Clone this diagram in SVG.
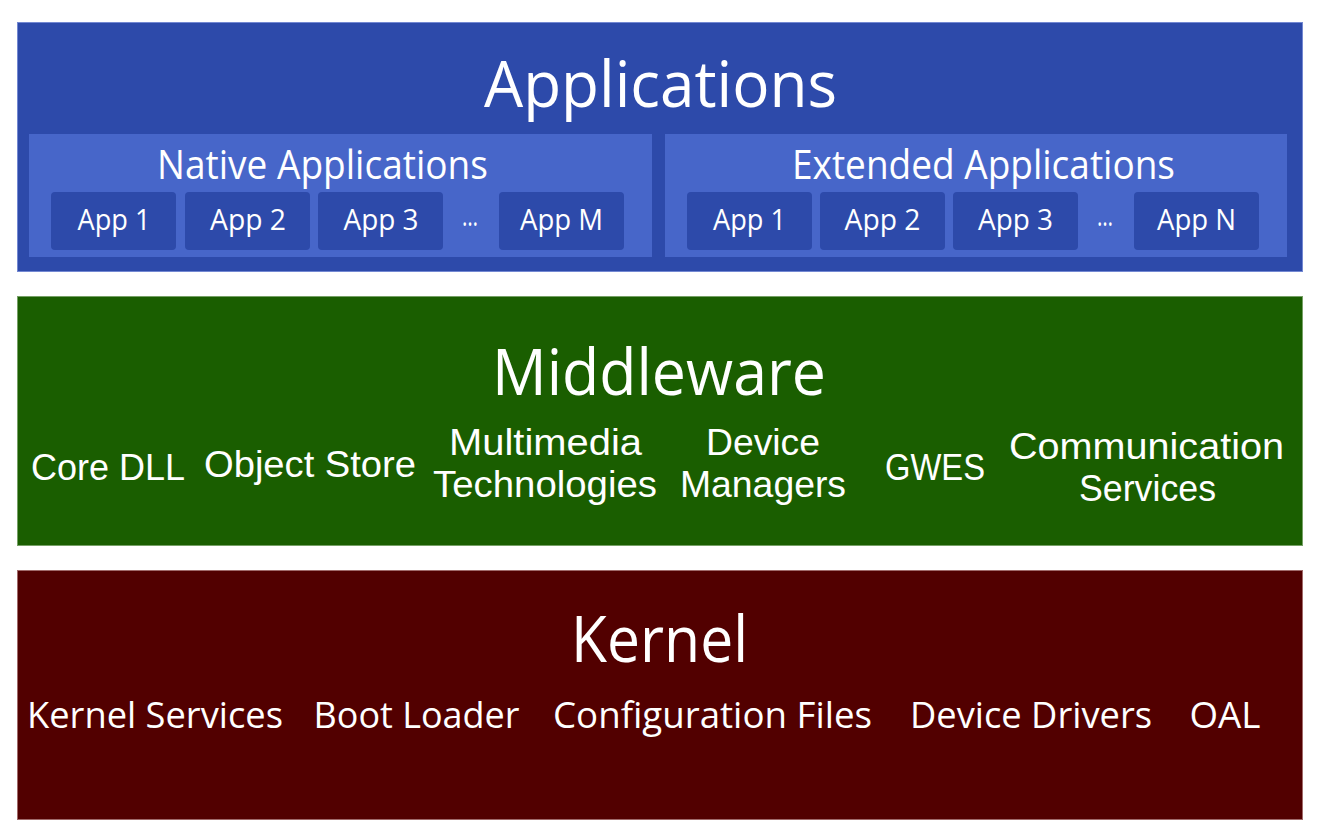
<svg xmlns="http://www.w3.org/2000/svg" width="1320" height="840" viewBox="0 0 1320 840">
  <style>
    text { font-family: "Open Sans", "Noto Sans", "Liberation Sans", sans-serif; fill: #ffffff; text-anchor: middle; }
    .title { font-size: 64px; }
    .sub { font-size: 40px; }
    .app { font-size: 30px; }
    .item { font-family: "Liberation Sans", Arial, sans-serif; font-size: 36px; }
    .kitem { font-size: 36px; }
    .layer-apps { fill: #2d4aaa; stroke: #7388d2; stroke-width: 1; }
    .layer-mid { fill: #1a5e00; stroke: #76a066; stroke-width: 1; }
    .layer-kern { fill: #520000; stroke: #a06a6a; stroke-width: 1; }
    .group { fill: #4766c9; }
    .appbox { fill: #2d4aaa; }
  </style>

  <!-- Applications layer -->
  <g id="applications">
    <rect class="layer-apps" x="17.5" y="22.5" width="1285" height="249"/>
    <text class="title" x="660.5" y="107" textLength="353" lengthAdjust="spacingAndGlyphs">Applications</text>
  </g>

  <g id="native-applications">
    <rect class="group" x="29" y="134" width="623" height="123"/>
    <text class="sub" x="322.5" y="179" textLength="331" lengthAdjust="spacingAndGlyphs">Native Applications</text>
    <g id="native-app-1">
      <rect class="appbox" x="51" y="192" width="125" height="58" rx="4"/>
      <text class="app" x="114" y="230" textLength="73" lengthAdjust="spacingAndGlyphs">App 1</text>
    </g>
    <g id="native-app-2">
      <rect class="appbox" x="185" y="192" width="125" height="58" rx="4"/>
      <text class="app" x="248" y="230" textLength="76" lengthAdjust="spacingAndGlyphs">App 2</text>
    </g>
    <g id="native-app-3">
      <rect class="appbox" x="318" y="192" width="125" height="58" rx="4"/>
      <text class="app" x="381" y="230" textLength="75" lengthAdjust="spacingAndGlyphs">App 3</text>
    </g>
    <text class="app" x="470" y="226" textLength="16" lengthAdjust="spacingAndGlyphs">…</text>
    <g id="native-app-m">
      <rect class="appbox" x="499" y="192" width="125" height="58" rx="4"/>
      <text class="app" x="561.5" y="230" textLength="83" lengthAdjust="spacingAndGlyphs">App M</text>
    </g>
  </g>

  <g id="extended-applications">
    <rect class="group" x="665" y="134" width="622" height="123"/>
    <text class="sub" x="983.5" y="179" textLength="383" lengthAdjust="spacingAndGlyphs">Extended Applications</text>
    <g id="extended-app-1">
      <rect class="appbox" x="687" y="192" width="125" height="58" rx="4"/>
      <text class="app" x="749.5" y="230" textLength="73" lengthAdjust="spacingAndGlyphs">App 1</text>
    </g>
    <g id="extended-app-2">
      <rect class="appbox" x="820" y="192" width="125" height="58" rx="4"/>
      <text class="app" x="882.5" y="230" textLength="76" lengthAdjust="spacingAndGlyphs">App 2</text>
    </g>
    <g id="extended-app-3">
      <rect class="appbox" x="953" y="192" width="125" height="58" rx="4"/>
      <text class="app" x="1015.5" y="230" textLength="75" lengthAdjust="spacingAndGlyphs">App 3</text>
    </g>
    <text class="app" x="1105" y="226" textLength="16" lengthAdjust="spacingAndGlyphs">…</text>
    <g id="extended-app-n">
      <rect class="appbox" x="1134" y="192" width="125" height="58" rx="4"/>
      <text class="app" x="1196.5" y="230" textLength="79" lengthAdjust="spacingAndGlyphs">App N</text>
    </g>
  </g>

  <!-- Middleware layer -->
  <g id="middleware">
    <rect class="layer-mid" x="17.5" y="296.5" width="1285" height="249"/>
    <text class="title" x="659" y="395" textLength="334" lengthAdjust="spacingAndGlyphs">Middleware</text>
    <text class="item" x="108" y="480" textLength="154" lengthAdjust="spacingAndGlyphs">Core DLL</text>
    <text class="item" x="310" y="477" textLength="212" lengthAdjust="spacingAndGlyphs">Object Store</text>
    <text class="item" x="545.5" y="455" textLength="193" lengthAdjust="spacingAndGlyphs">Multimedia</text>
    <text class="item" x="545" y="497" textLength="224" lengthAdjust="spacingAndGlyphs">Technologies</text>
    <text class="item" x="763" y="455" textLength="114" lengthAdjust="spacingAndGlyphs">Device</text>
    <text class="item" x="763" y="497" textLength="166" lengthAdjust="spacingAndGlyphs">Managers</text>
    <text class="item" x="935" y="480" textLength="100" lengthAdjust="spacingAndGlyphs">GWES</text>
    <text class="item" x="1146.5" y="459" textLength="275" lengthAdjust="spacingAndGlyphs">Communication</text>
    <text class="item" x="1147.5" y="501" textLength="137" lengthAdjust="spacingAndGlyphs">Services</text>
  </g>

  <!-- Kernel layer -->
  <g id="kernel">
    <rect class="layer-kern" x="17.5" y="570.5" width="1285" height="249"/>
    <text class="title" x="659.5" y="662" textLength="177" lengthAdjust="spacingAndGlyphs">Kernel</text>
    <text class="kitem" x="155" y="728" textLength="256" lengthAdjust="spacingAndGlyphs">Kernel Services</text>
    <text class="kitem" x="416.5" y="728" textLength="206" lengthAdjust="spacingAndGlyphs">Boot Loader</text>
    <text class="kitem" x="712.5" y="728" textLength="319" lengthAdjust="spacingAndGlyphs">Configuration Files</text>
    <text class="kitem" x="1031" y="728" textLength="242" lengthAdjust="spacingAndGlyphs">Device Drivers</text>
    <text class="kitem" x="1225" y="728" textLength="71" lengthAdjust="spacingAndGlyphs">OAL</text>
  </g>

  <!-- no connectors in this layered stack -->
  <g id="connectors"/>
</svg>
